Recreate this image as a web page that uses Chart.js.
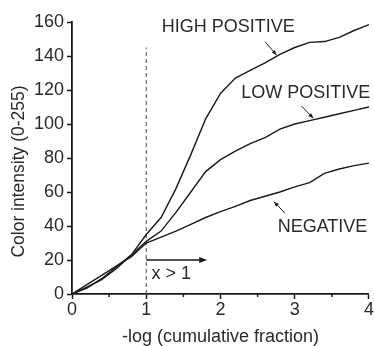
<!DOCTYPE html>
<html lang="en">
<head>
    <meta charset="UTF-8">
    <title>Color intensity vs -log (cumulative fraction)</title>
    <script src="https://cdn.jsdelivr.net/npm/chart.js"></script>
    <style>
        body { margin: 0; background: #fff; }
        .chart-box { width: 374px; height: 346px; position: relative; }
    </style>
</head>
<body>
    <div class="chart-box">
        <canvas id="intensityChart"></canvas>
    </div>

    <script>
        // values
        var xValues = [0, 0.2, 0.4, 0.6, 0.8, 1.0, 1.2, 1.4, 1.6, 1.8, 2.0, 2.2, 2.4, 2.6, 2.8, 3.0, 3.2, 3.4, 3.6, 3.8, 4.0];
        var highPositive = [0, 4, 8.5, 15, 23, 35, 45, 62, 82, 103, 118, 127, 131.5, 136, 141, 145, 148, 148.5, 151, 155, 158.5];
        var lowPositive = [0, 3.5, 9, 16, 23, 31, 37, 48, 60, 72, 79, 84, 88.5, 92, 97, 100, 102, 104, 106, 108, 110];
        var negative = [0, 5.5, 11, 16.5, 22, 30, 33.5, 37, 41, 45, 48.5, 51.5, 55, 57.5, 60, 63, 65.5, 71, 73.5, 75.5, 77];

        var xTicks = [0, 1, 2, 3, 4];
        var xMinorTicks = [0.5, 1.5, 2.5, 3.5];
        var yTicks = [0, 20, 40, 60, 80, 100, 120, 140, 160];

        // dashed x = 1 marker and the "x > 1" arrow
        var cutX = [1, 1];
        var cutY = [0, 145];
        var arrowX = [1, 1.78];
        var arrowY = [20, 20];

        // curve labels and their pointer lines
        var labelTexts = ["HIGH POSITIVE", "LOW POSITIVE", "NEGATIVE", "x > 1"];
        var labelX = [1.21, 2.28, 2.77, 1.07];
        var labelY = [157, 118.5, 39.1, 11.8];
        var pointerFrom = [[2.6, 148.4], [3.09, 110.6], [2.87, 47.5]];
        var pointerTo = [[2.755, 140.6], [3.25, 103.4], [2.72, 54.3]];

        var ink = "#1a1a1a";
        var textInk = "#2a2a2a";
        var fontFamily = "'Liberation Sans', Arial, sans-serif";

        function toPoints(xs, ys) {
            return xs.map(function (x, i) { return { x: x, y: ys[i] }; });
        }

        function curve(values) {
            return {
                data: toPoints(xValues, values),
                borderColor: ink,
                borderWidth: 1.4,
                pointRadius: 0,
                tension: 0,
                fill: false
            };
        }

        function headAt(ctx, x0, y0, x1, y1, len, half) {
            var a = Math.atan2(y1 - y0, x1 - x0);
            ctx.beginPath();
            ctx.moveTo(x1, y1);
            ctx.lineTo(x1 - len * Math.cos(a) + half * Math.sin(a), y1 - len * Math.sin(a) - half * Math.cos(a));
            ctx.lineTo(x1 - len * Math.cos(a) - half * Math.sin(a), y1 - len * Math.sin(a) + half * Math.cos(a));
            ctx.closePath();
            ctx.fill();
        }

        var annotationPlugin = {
            id: "annotations",
            afterDatasetsDraw: function (chart) {
                var ctx = chart.ctx;
                var xs = chart.scales.x, ys = chart.scales.y;
                ctx.save();

                // minor ticks on the x axis
                ctx.strokeStyle = ink;
                ctx.lineWidth = 1.5;
                xMinorTicks.forEach(function (v) {
                    var px = xs.getPixelForValue(v);
                    ctx.beginPath();
                    ctx.moveTo(px, ys.bottom);
                    ctx.lineTo(px, ys.bottom + 3);
                    ctx.stroke();
                });

                // pointer lines
                ctx.lineWidth = 1;
                ctx.fillStyle = ink;
                for (var i = 0; i < pointerFrom.length; i++) {
                    var x0 = xs.getPixelForValue(pointerFrom[i][0]), y0 = ys.getPixelForValue(pointerFrom[i][1]);
                    var x1 = xs.getPixelForValue(pointerTo[i][0]), y1 = ys.getPixelForValue(pointerTo[i][1]);
                    ctx.beginPath();
                    ctx.moveTo(x0, y0);
                    ctx.lineTo(x1, y1);
                    ctx.stroke();
                    headAt(ctx, x0, y0, x1, y1, 5, 2);
                }

                // arrow head of "x > 1"
                headAt(ctx,
                    xs.getPixelForValue(arrowX[0]), ys.getPixelForValue(arrowY[0]),
                    xs.getPixelForValue(arrowX[1]) + 3, ys.getPixelForValue(arrowY[1]), 8, 3);

                // labels
                ctx.fillStyle = textInk;
                ctx.font = "18px " + fontFamily;
                ctx.textAlign = "left";
                ctx.textBaseline = "middle";
                labelTexts.forEach(function (t, k) {
                    ctx.fillText(t, xs.getPixelForValue(labelX[k]), ys.getPixelForValue(labelY[k]));
                });

                // y axis title
                ctx.font = "17.5px " + fontFamily;
                ctx.textAlign = "center";
                ctx.translate(19.5, 171.5);
                ctx.rotate(-Math.PI / 2);
                ctx.fillText("Color intensity (0-255)", 0, 0);
                ctx.restore();
            }
        };

        var ctx = document.getElementById("intensityChart").getContext("2d");
        new Chart(ctx, {
            type: "line",
            data: {
                datasets: [
                    curve(highPositive),
                    curve(lowPositive),
                    curve(negative),
                    {
                        data: toPoints(cutX, cutY),
                        borderColor: "#444",
                        borderWidth: 1,
                        borderDash: [4, 3],
                        pointRadius: 0
                    },
                    {
                        data: toPoints(arrowX, arrowY),
                        borderColor: ink,
                        borderWidth: 1.3,
                        pointRadius: 0
                    }
                ]
            },
            options: {
                responsive: true,
                maintainAspectRatio: false,
                animation: false,
                events: [],
                layout: { padding: { top: 22, right: 5, left: 0, bottom: 0 } },
                plugins: {
                    legend: { display: false },
                    tooltip: { enabled: false }
                },
                scales: {
                    x: {
                        type: "linear",
                        min: 0,
                        max: 4,
                        afterBuildTicks: function (scale) {
                            scale.ticks = xTicks.map(function (v) { return { value: v }; });
                        },
                        afterFit: function (scale) { scale.height = 52; },
                        grid: {
                            drawOnChartArea: false,
                            drawTicks: true,
                            tickLength: 5,
                            tickColor: ink,
                            tickWidth: 1.5
                        },
                        border: { color: ink, width: 1.8 },
                        ticks: {
                            color: textInk,
                            font: { family: fontFamily, size: 18 },
                            padding: 0,
                            maxRotation: 0
                        },
                        title: {
                            display: true,
                            text: "-log (cumulative fraction)",
                            color: textInk,
                            font: { family: fontFamily, size: 18 },
                            padding: { top: 0, bottom: -2 }
                        }
                    },
                    y: {
                        min: 0,
                        max: 160,
                        afterBuildTicks: function (scale) {
                            scale.ticks = yTicks.map(function (v) { return { value: v }; });
                        },
                        afterFit: function (scale) { scale.width = 72; },
                        grid: {
                            drawOnChartArea: false,
                            drawTicks: true,
                            tickLength: 5,
                            tickColor: ink,
                            tickWidth: 1.5
                        },
                        border: { color: ink, width: 1.8 },
                        ticks: {
                            color: textInk,
                            font: { family: fontFamily, size: 18 },
                            padding: 3
                        }
                    }
                }
            },
            plugins: [annotationPlugin]
        });
    </script>
</body>
</html>
